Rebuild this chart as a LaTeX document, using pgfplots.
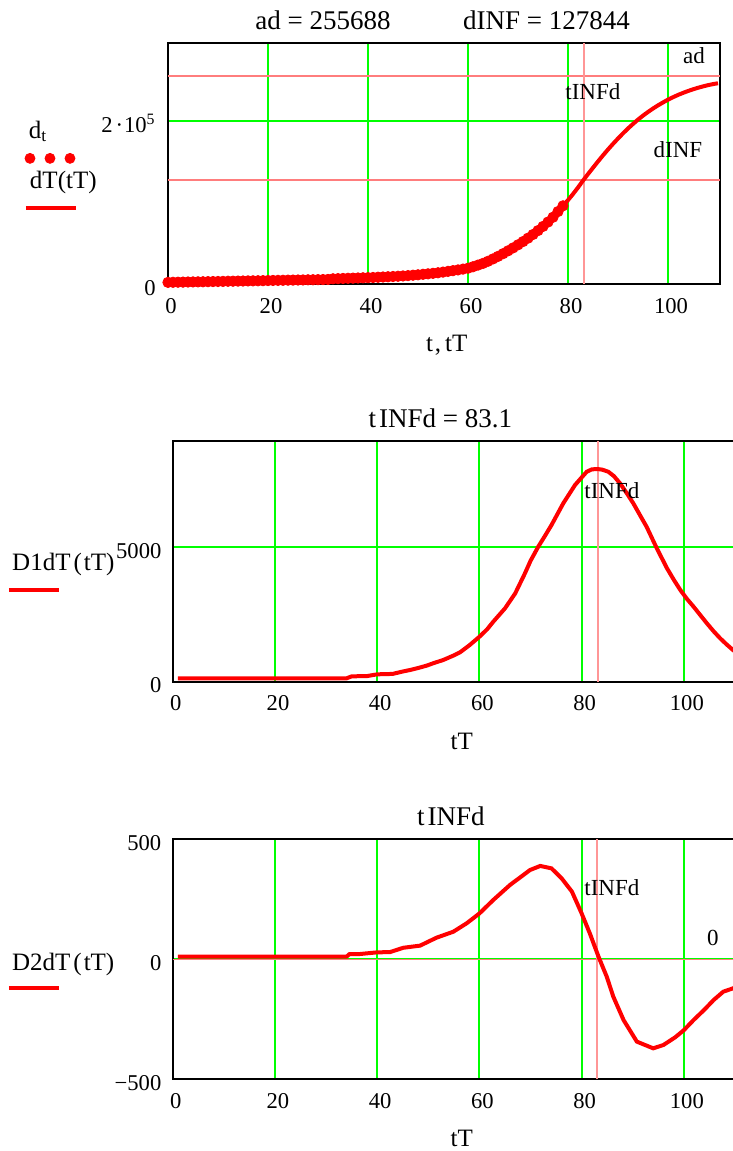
\documentclass[border=0pt]{standalone}
\usepackage{pgfplots}
\pgfplotsset{compat=1.18}
\usepackage{fontspec}
\setmainfont{Liberation Serif}

\definecolor{mcred}{RGB}{255,0,0}
\definecolor{mcgreen}{RGB}{0,255,0}
\definecolor{mcmark}{RGB}{255,125,125}
\definecolor{mcmarkv}{RGB}{255,150,150}

\newcommand\tickf{\fontsize{11.3}{13}\selectfont}
\newcommand\titf{\fontsize{13.5}{16}\selectfont}
\newcommand\legf{\fontsize{12.5}{15}\selectfont}
\newcommand\annf{\fontsize{11.5}{14}\selectfont}
\newcommand\labf{\fontsize{12.5}{15}\selectfont}

\pgfplotsset{
  mcad/.style={
    scale only axis, anchor=north west,
    xmin=0,
    axis line style={black, line width=1pt},
    major tick length=0pt,
    xmajorgrids, ymajorgrids,
    grid style={mcgreen, line width=1pt},
    xtick={0,20,40,60,80,100},
    xticklabels={0,20,40,60,80,100},
    scaled y ticks=false,
    xticklabel style={font=\tickf, anchor=base, yshift=-14.5pt, xshift=1.5pt},
    yticklabel style={font=\tickf, anchor=base east, inner sep=0pt, xshift=-5.5pt, yshift=-5.6pt},
    xlabel style={font=\labf, anchor=base, at={(axis description cs:0.514,-0.281)}},
    clip mode=individual,
    legend style={draw=none, fill=none, inner sep=0pt, outer sep=0pt,
      anchor=north west, nodes={inner sep=0pt}},
  },
  refline/.style={color=mcmark, line width=0.8pt, no marks, forget plot},
  vrefline/.style={color=mcmarkv, line width=1pt, no marks, forget plot},
  curve/.style={mcred, line width=2pt, no marks, forget plot},
}

\begin{document}
\begin{tikzpicture}
\useasboundingbox (0,0) rectangle (366.5pt,-575.5pt);

% ---------- top: d_t and dT(tT)
\begin{axis}[mcad, at={(84pt,-21.5pt)}, width=276pt, height=120.5pt,
  xmax=110.4, ymin=0, ymax=296000,
  ytick={0,200000}, yticklabels={0,{2\hspace{1.5pt}·\hspace{0.5pt}10\textsuperscript{5}}},
  yticklabel style={xshift=-0.5pt},
  xlabel={t\hspace{1pt},\hspace{2pt}tT},
  xlabel style={at={(axis description cs:0.505,-0.281)}},
  legend style={at={(-0.2609,0.6763)}},
]
\addlegendimage{legend image code/.code={
  \draw[mcred, line width=2pt] (0pt,0pt) -- (25pt,0pt);
  \fill[mcred] (2pt,25pt) circle[radius=2.5pt];
  \fill[mcred] (12pt,25pt) circle[radius=2.5pt];
  \fill[mcred] (22pt,25pt) circle[radius=2.5pt];
  \node[anchor=base west, inner sep=0pt, font=\legf] at (2pt,10pt) {dT(tT)};
  \node[anchor=base west, inner sep=0pt, font=\legf] at (1.5pt,35pt) {d\textsubscript{t}};
}}
\addlegendentry{}

\addplot[refline] coordinates {(0,255688) (110.4,255688)};
\addplot[refline] coordinates {(0,127844) (110.4,127844)};
\addplot[vrefline] coordinates {(83.1,0) (83.1,296000)};

% d_t, daily data
\addplot[only marks, mark=*, mark size=2.6pt, mcred, forget plot] coordinates {
(0,2000) (1,2100) (2,2200) (3,2300) (4,2450) (5,2550) (6,2650) (7,2750) (8,2900) (9,3000)
(10,3100) (11,3200) (12,3350) (13,3450) (14,3550) (15,3650) (16,3800) (17,3900) (18,4000) (19,4100)
(20,4250) (21,4350) (22,4450) (23,4550) (24,4700) (25,4800) (26,4900) (27,5000) (28,5150) (29,5250)
(30,5350) (31,5450) (32,5600) (33,6400) (34,6600) (35,6800) (36,7000) (37,7200) (38,7400) (39,7600)
(40,7800) (41,8000) (42,8300) (43,8600) (44,8900) (45,9200) (46,9500) (47,9900) (48,10300) (49,10800)
(50,11300) (51,11900) (52,12500) (53,13100) (54,13800) (55,14600) (56,15500) (57,16400) (58,17300) (59,18300)
(60,19400) (61,21200) (62,23200) (63,25300) (64,27900) (65,30800) (66,33900) (67,37200) (68,40700) (69,44300)
(70,48100) (71,52100) (72,56300) (73,60800) (74,65600) (75,70700) (76,76100) (77,82000) (78,89000) (79,96000)
};
% dT(tT)
\addplot[curve] coordinates {
(0,2000) (5,2550) (10,3100) (15,3650) (20,4250) (25,4800) (30,5350) (32,5600) (33,6400) (36,7000)
(40,7800) (43,8600) (46,9500) (48,10300) (50,11300) (52,12500) (54,13800) (56,15500) (58,17300) (60,19400)
(61,21200) (62,23200) (63,25300) (64,27900) (65,30800) (66,33900) (67,37200) (68,40700) (69,44300)
(70,48100) (71,52100) (72,56300) (73,60800) (74,65600) (75,70700) (76,76100) (77,82000) (78,89000) (79,96000)
(80,103000) (81,110500) (82,118500) (83,127000) (84,135000) (85,142800) (86,150500) (87,158000) (88,165200) (89,172100)
(90,178700) (91,185000) (92,191000) (93,196600) (94,201900) (95,206800) (96,211300) (97,215500) (98,219400) (99,223000)
(100,226400) (101,229400) (102,232200) (103,234700) (104,237000) (105,239100) (106,241000) (107,242700) (108,244200) (109,245500) (110,246600)
};

\node[anchor=base west, inner sep=0pt, font=\titf] at (rel axis cs:0.1576,1.054) {ad = 255688};
\node[anchor=base west, inner sep=0pt, font=\titf] at (rel axis cs:0.5339,1.054) {dINF = 127844};
\node[anchor=base west, inner sep=0pt, font=\annf] at (rel axis cs:0.9324,0.9158) {ad};
\node[anchor=base west, inner sep=0pt, font=\annf] at (rel axis cs:0.7192,0.7635) {tINFd};
\node[anchor=base west, inner sep=0pt, font=\annf] at (rel axis cs:0.879,0.5257) {dINF};
\end{axis}

% ---------- middle: D1dT(tT)
\begin{axis}[mcad, at={(86.4pt,-220.5pt)}, width=281.1pt, height=120.35pt,
  xmax=110, ymin=0, ymax=8955,
  ytick={0,5000}, yticklabels={0,5000},
  xlabel={tT},
  legend style={at={(-0.2950,0.5334)}},
]
\addlegendimage{legend image code/.code={
  \draw[mcred, line width=2pt] (0pt,0pt) -- (25pt,0pt);
  \node[anchor=base west, inner sep=0pt, font=\legf] at (1.65pt,9.65pt) {D1dT\hspace{1.5pt}(\hspace{1pt}tT)};
}}
\addlegendentry{}

\addplot[vrefline] coordinates {(83.1,0) (83.1,8955)};
\addplot[curve] coordinates {
(1,126) (34,126) (35,200) (38,210) (40,275) (43,290) (45,380) (46.4,435) (48,510) (49.7,600)
(51,690) (52.9,807) (55,980) (56.2,1093) (58,1350) (60,1674) (61.5,1950) (62.7,2232) (65,2730) (67,3288)
(68.9,4032) (70,4500) (71.5,5022) (72.8,5420) (74.1,5830) (76.4,6637) (78.7,7318) (80,7600) (81,7813) (82,7900)
(83.1,7913) (84,7890) (85.2,7813) (86.3,7650) (87.5,7381) (88.8,7020) (90.1,6637) (91.4,6200) (92.7,5766) (94.7,4962)
(96.7,4218) (98,3800) (99.3,3412) (100.6,3080) (101.9,2790) (103.2,2480) (104.5,2172) (105.8,1880) (107.1,1614) (108.4,1380)
(109.6,1180) (110,1120)
};

\node[anchor=base west, inner sep=0pt, font=\titf] at (rel axis cs:0.3477,1.0569) {t\hspace{1.5pt}INFd = 83.1};
\node[anchor=base west, inner sep=0pt, font=\annf] at (rel axis cs:0.7314,0.762) {tINFd};
\end{axis}

% ---------- bottom: D2dT(tT)
\begin{axis}[mcad, at={(86.35pt,-419.65pt)}, width=281.15pt, height=120pt,
  xmax=110, ymin=-500, ymax=500,
  ytick={-500,0,500}, yticklabels={−500,0,500},
  xlabel={tT},
  legend style={at={(-0.2950,0.525)}},
]
\addlegendimage{legend image code/.code={
  \draw[mcred, line width=2pt] (0pt,0pt) -- (25pt,0pt);
  \node[anchor=base west, inner sep=0pt, font=\legf] at (1.65pt,8.8pt) {D2dT\hspace{1.5pt}(\hspace{1pt}tT)};
}}
\addlegendentry{}

\addplot[vrefline] coordinates {(83.1,-500) (83.1,500)};
\addplot[refline] coordinates {(0,0) (110,0)};
\addplot[curve] coordinates {
(1,11) (34,11) (34.6,22) (36.6,22) (40,29) (42.5,30) (45.1,48) (48.4,57) (51.6,90) (54.9,115)
(57.5,150) (60,191) (62.7,247) (66,310) (69.9,372) (71.9,389) (74.1,379) (76.1,337) (78.1,282) (80,191)
(81.6,108) (83.3,11) (84.9,-72) (86.2,-156) (88.2,-253) (90.8,-343) (94,-371) (96,-357) (98.3,-325) (100,-295)
(101.9,-253) (104,-210) (105.8,-170) (107.7,-135) (109.6,-121) (110,-118)
};

\node[anchor=base west, inner sep=0pt, font=\titf] at (rel axis cs:0.4338,1.0596) {t\hspace{1.5pt}INFd};
\node[anchor=base west, inner sep=0pt, font=\annf] at (rel axis cs:0.7314,0.765) {tINFd};
\node[anchor=base west, inner sep=0pt, font=\annf] at (rel axis cs:0.9497,0.5567) {0};
\end{axis}
\end{tikzpicture}
\end{document}
